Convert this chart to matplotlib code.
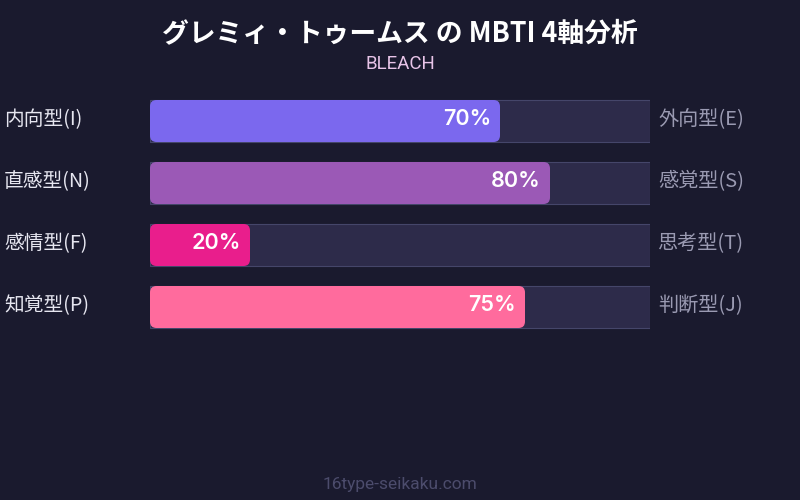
import matplotlib
matplotlib.use("Agg")
from matplotlib import pyplot as plt
from matplotlib.patches import FancyBboxPatch

title = "グレミィ・トゥームス の MBTI 4軸分析"
subtitle = "BLEACH"
footer = "16type-seikaku.com"

left_labels = ["内向型(I)", "直感型(N)", "感情型(F)", "知覚型(P)"]
right_labels = ["外向型(E)", "感覚型(S)", "思考型(T)", "判断型(J)"]
values = [70, 80, 20, 75]
colors = ["#7b68ee", "#9b59b6", "#e91e8c", "#ff6b9d"]

bg = "#1a1a2e"
jp = ["Noto Sans CJK JP", "DejaVu Sans"]
lat = ["Roboto", "Noto Sans CJK JP", "DejaVu Sans"]
pct = ["Inter", "DejaVu Sans"]

fig = plt.figure(figsize=(8, 5), dpi=100, facecolor=bg)
ax = fig.add_axes([150 / 800, 1 - 338 / 500, 500 / 800, 248 / 500])
ax.set_facecolor(bg)
ax.set_xlim(0, 100)
ax.set_ylim(3.5, -0.5)
ax.axis("off")

h = 42 / 62
asp = 5 / 62
for i, (v, c) in enumerate(zip(values, colors)):
    ax.barh(i, 100, height=h, color="#2d2b4a", edgecolor="#45466a", linewidth=0.8)
    ax.add_patch(FancyBboxPatch((0, i - h / 2), v, h,
                                boxstyle="round,pad=0,rounding_size=1.3",
                                mutation_aspect=asp, facecolor=c, edgecolor="none"))
    ax.text(v - 1.8, i - 0.03, f"{v}%", ha="right", va="center", color="white",
            fontsize=15.5, fontweight="semibold", family=pct)
    ax.text(-29.2, i - 0.03, left_labels[i], ha="left", va="center", color="#e6e6f0",
            fontsize=14.2, family=jp, clip_on=False)
    ax.text(101.6, i - 0.03, right_labels[i], ha="left", va="center", color="#9a9ab2",
            fontsize=14.5, family=jp, clip_on=False)

fig.text(0.5, 1 - 33 / 500, title, ha="center", va="center", color="white",
         fontsize=19.3, fontweight="bold", family=jp)
fig.text(0.5, 1 - 64 / 500, subtitle, ha="center", va="center", color="#e8c4e8",
         fontsize=13.5, family=lat)
fig.text(0.5, 1 - 484 / 500, footer, ha="center", va="center", color="#4c4c6c",
         fontsize=12.5, family=lat)

fig.savefig("out.png", dpi=100, facecolor=bg)
